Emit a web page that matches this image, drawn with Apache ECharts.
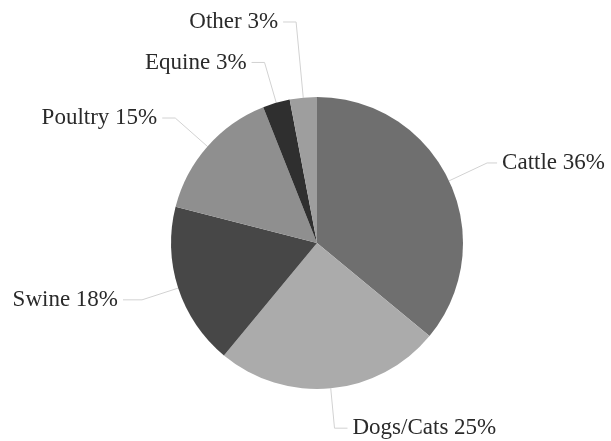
<!DOCTYPE html>
<html><head><meta charset="utf-8">
<script src="https://cdn.jsdelivr.net/npm/echarts@6/dist/echarts.min.js"></script>
<style>html,body{margin:0;padding:0;background:#fff}#c{width:611px;height:441px}</style>
</head><body><div id="c"></div>
<script>
const categories = ['Cattle', 'Dogs/Cats', 'Swine', 'Poultry', 'Equine', 'Other'];
const values = [36, 25, 18, 15, 3, 3];

// styling (not data)
const colors = ['#6f6f6f', '#ababab', '#474747', '#8f8f8f', '#2f2f2f', '#9e9e9e'];
const lineLen = [[42, 10], [40, 13], [38, 19], [43, 13], [42, 13], [76, 13]];

const chart = echarts.init(document.getElementById('c'));
chart.setOption({
  animation: false,
  series: [{
    type: 'pie',
    center: [317, 243],
    radius: 146,
    startAngle: 90,
    clockwise: true,
    avoidLabelOverlap: false,
    data: categories.map((c, i) => ({
      name: c, value: values[i],
      itemStyle: { color: colors[i] },
      labelLine: { length: lineLen[i][0], length2: lineLen[i][1] }
    })),
    label: {
      formatter: p => p.name + ' ' + p.value + '%',
      fontFamily: 'Liberation Serif',
      fontSize: 23,
      color: '#2a2a2a'
    },
    labelLine: { lineStyle: { color: '#d2d2d2', width: 1 } },
    itemStyle: { borderWidth: 0 },
    emphasis: { disabled: true }
  }]
});
</script></body></html>
